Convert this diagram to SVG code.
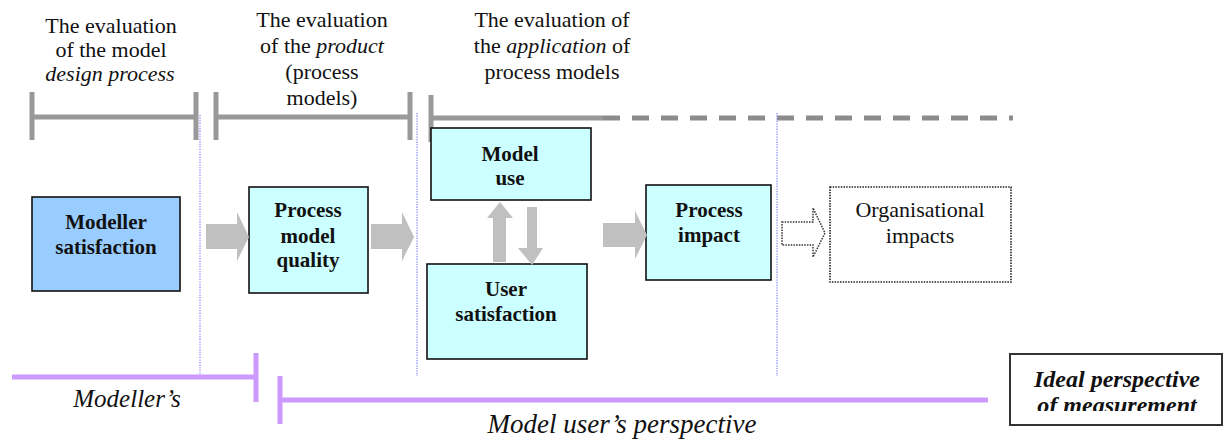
<svg xmlns="http://www.w3.org/2000/svg" width="1224" height="440" viewBox="0 0 1224 440">
<style>
.lbl{font-size:22px;fill:#111;text-anchor:middle}
.bx{font-size:21px;font-weight:bold;fill:#111;text-anchor:middle}
.it{font-style:italic;fill:#111;text-anchor:middle}
.box{fill:#ccffff;stroke:#111;stroke-width:1.6}
.brk{stroke:#999;stroke-width:5;fill:none}
.prp{stroke:#cc99ff;stroke-width:5;fill:none}
.vdot{stroke:#8c8cff;stroke-width:1.3;stroke-dasharray:1.3 1.3;fill:none}
.arr{fill:#c0c0c0;stroke:none}
</style>
<defs>
<clipPath id="clipIdeal"><rect x="1010" y="354" width="214" height="57"/></clipPath>
</defs>
<rect width="1224" height="440" fill="#fff"/>
<g font-family="Liberation Serif, Tinos, Times New Roman, DejaVu Serif, serif">

<g id="headings">
<text class="lbl" x="111" y="33">The evaluation</text>
<text class="lbl" x="111" y="57">of the model</text>
<text class="lbl" x="110" y="81" font-style="italic">design process</text>
<text class="lbl" x="322" y="27">The evaluation</text>
<text class="lbl" x="322" y="53">of the <tspan font-style="italic">product</tspan></text>
<text class="lbl" x="322" y="79">(process</text>
<text class="lbl" x="322" y="105">models)</text>
<text class="lbl" x="552" y="27">The evaluation of</text>
<text class="lbl" x="552" y="53">the <tspan font-style="italic">application</tspan> of</text>
<text class="lbl" x="552" y="79">process models</text>
</g>

<g id="brackets">
<line class="brk" x1="32" y1="92" x2="32" y2="140"/>
<line class="brk" x1="32" y1="117" x2="196" y2="117"/>
<line class="brk" x1="196" y1="92" x2="196" y2="140"/>
<line class="brk" x1="216" y1="92" x2="216" y2="140"/>
<line class="brk" x1="216" y1="117" x2="410" y2="117"/>
<line class="brk" x1="410" y1="92" x2="410" y2="140"/>
<line class="brk" x1="431" y1="95" x2="431" y2="142"/>
<line class="brk" x1="431" y1="118" x2="603" y2="118"/>
<line stroke="#8c8c8c" stroke-width="5" stroke-dasharray="17 12" x1="603" y1="118" x2="1013" y2="118"/>
</g>

<g id="dividers">
<line class="vdot" x1="200" y1="115" x2="200" y2="375"/>
<line class="vdot" x1="417" y1="113" x2="417" y2="376"/>
<line class="vdot" x1="777" y1="113" x2="777" y2="376"/>
</g>

<g id="modeller-satisfaction">
<rect x="32" y="197" width="148" height="94" fill="#99ccff" stroke="#111" stroke-width="1.6"/>
<text class="bx" x="106" y="229">Modeller</text>
<text class="bx" x="106" y="254">satisfaction</text>
</g>

<g id="process-model-quality">
<rect class="box" x="249" y="187" width="119" height="106"/>
<text class="bx" x="308" y="217">Process</text>
<text class="bx" x="308" y="243">model</text>
<text class="bx" x="308" y="267">quality</text>
</g>

<g id="model-use">
<rect class="box" x="431" y="128" width="160" height="72"/>
<text class="bx" x="510" y="161">Model</text>
<text class="bx" x="510" y="185">use</text>
</g>

<g id="user-satisfaction">
<rect class="box" x="427" y="264" width="160" height="95"/>
<text class="bx" x="506" y="296">User</text>
<text class="bx" x="506" y="321">satisfaction</text>
</g>

<g id="process-impact">
<rect class="box" x="646" y="185" width="125" height="95"/>
<text class="bx" x="709" y="217">Process</text>
<text class="bx" x="709" y="242">impact</text>
</g>

<g id="organisational-impacts">
<rect x="830" y="187" width="181" height="95" fill="#fff" stroke="#222" stroke-width="1.6" stroke-dasharray="1.5 1.2"/>
<text class="lbl" x="920" y="217">Organisational</text>
<text class="lbl" x="920" y="243">impacts</text>
</g>

<g id="connectors">
<polygon class="arr" points="206,224 237,224 237,212 249,237 237,261 237,249 206,249"/>
<polygon class="arr" points="371,224 402,224 402,212 414,237 402,261 402,249 371,249"/>
<polygon class="arr" points="493,262 493,218 487,218 500,202 513,218 506,218 506,262"/>
<polygon class="arr" points="527,207 537,207 537,248 543,248 532,265 518,248 527,248"/>
<polygon class="arr" points="603,223 635,223 635,211 647,235 635,259 635,247 603,247"/>
<polygon points="782,222 813,222 813,208 825,233 813,257 813,245 782,245" fill="none" stroke="#333" stroke-width="1.5" stroke-dasharray="1.5 1.2"/>
</g>

<g id="perspectives">
<line class="prp" x1="12" y1="377" x2="256" y2="377"/>
<line class="prp" x1="256" y1="353" x2="256" y2="402"/>
<text class="it" x="127" y="407" font-size="25">Modeller’s</text>
<line class="prp" x1="280" y1="376" x2="280" y2="424"/>
<line class="prp" x1="280" y1="400" x2="988" y2="400"/>
<text class="it" x="622" y="433" font-size="27">Model user’s perspective</text>
</g>

<g id="ideal-perspective">
<rect x="1010" y="354" width="212" height="71" fill="#fff" stroke="#333" stroke-width="2"/>
<g clip-path="url(#clipIdeal)">
<text class="it" x="1117" y="387" font-size="24" font-weight="bold">Ideal perspective</text>
<text class="it" x="1117" y="413" font-size="24" font-weight="bold">of measurement</text>
</g>
</g>
</g>
</svg>
